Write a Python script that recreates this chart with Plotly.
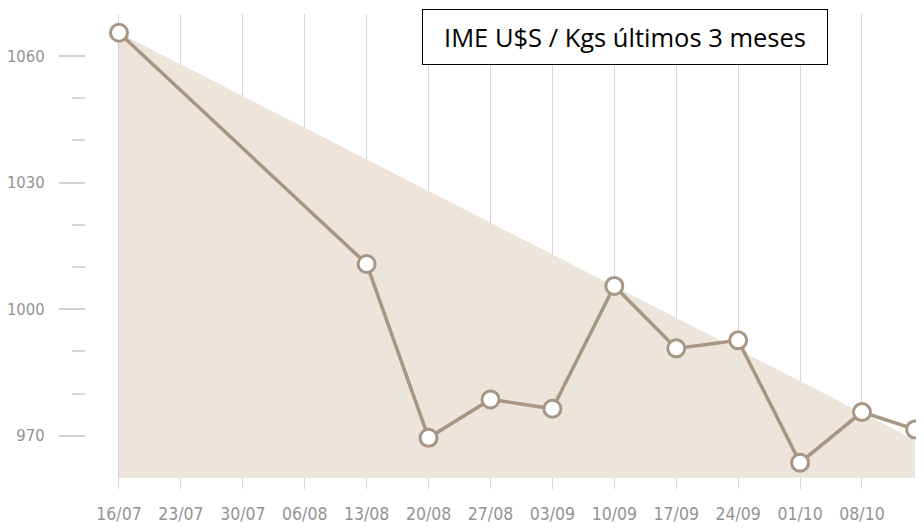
import plotly.graph_objects as go

# Data
dates = ["2018-07-16", "2018-08-13", "2018-08-20", "2018-08-27", "2018-09-03",
         "2018-09-10", "2018-09-17", "2018-09-24", "2018-10-01", "2018-10-08", "2018-10-14"]
values = [1065.5, 1010.7, 969.5, 978.6, 976.4, 1005.5, 990.7, 992.6, 963.6, 975.6, 971.5]

area_x = ["2018-07-16", "2018-10-14", "2018-10-14", "2018-07-16"]
area_y = [1065.5, 969.0, 960.0, 960.0]

tick_dates = ["2018-07-16", "2018-07-23", "2018-07-30", "2018-08-06", "2018-08-13",
              "2018-08-20", "2018-08-27", "2018-09-03", "2018-09-10", "2018-09-17",
              "2018-09-24", "2018-10-01", "2018-10-08"]
tick_text = ["16/07", "23/07", "30/07", "06/08", "13/08", "20/08", "27/08",
             "03/09", "10/09", "17/09", "24/09", "01/10", "08/10"]

y_major = [970, 1000, 1030, 1060]
y_minor = [980, 990, 1010, 1020, 1040, 1050]

title_text = "IME U$S / Kgs últimos 3 meses"

line_col = "#a89684"
fill_col = "#ede4dc"
label_col = "#939393"

# page body has an 8px default margin; compensate so the plot lands in place
OFF = 8

fig = go.Figure()
fig.add_trace(go.Scatter(x=area_x, y=area_y, fill="toself", fillcolor=fill_col,
                         line=dict(width=0), mode="lines", hoverinfo="skip",
                         showlegend=False))
fig.add_trace(go.Scatter(x=dates, y=values, mode="lines+markers",
                         line=dict(color=line_col, width=3.5),
                         marker=dict(size=17, color="white",
                                     line=dict(color=line_col, width=3)),
                         showlegend=False))

fig.update_layout(
    width=924 - OFF, height=531 - OFF,
    margin=dict(l=86 - OFF, r=0, t=14 - OFF, b=42, autoexpand=False),
    paper_bgcolor="white", plot_bgcolor="white",
    font=dict(family="DejaVu Sans Condensed, sans-serif",
              color=label_col, size=17),
    xaxis=dict(
        type="date", automargin=False,
        range=["2018-07-12T06:30", "2018-10-15T00:15"],
        tickmode="array", tickvals=tick_dates, ticktext=tick_text,
        showgrid=True, gridcolor="#d6d6d6", gridwidth=1,
        zeroline=False, showline=False, ticks="",
        ticklabelstandoff=12,
        tickfont=dict(size=17.5, color=label_col),
    ),
    yaxis=dict(
        automargin=False,
        range=[957.37, 1069.95],
        tickmode="array", tickvals=y_major,
        showgrid=False, zeroline=False, showline=False,
        ticks="outside", ticklen=26, tickcolor="#d2d2d2", tickwidth=1.5,
        ticklabelstandoff=11,
        tickfont=dict(size=16.5, color=label_col),
        minor=dict(tickmode="array", tickvals=y_minor, ticks="outside",
                   ticklen=13, tickcolor="#d8d8d8", tickwidth=1.5),
    ),
    annotations=[dict(
        text=title_text, xref="paper", yref="paper",
        x=(625 - 86) / 838, y=(489 - 37) / 475,
        xanchor="center", yanchor="middle", showarrow=False,
        width=400, height=50, borderpad=2,
        bgcolor="white", bordercolor="black", borderwidth=1,
        font=dict(family="Open Sans, Liberation Sans, sans-serif", size=25.5, color="black"),
    )],
)

fig.write_html("out.html")
